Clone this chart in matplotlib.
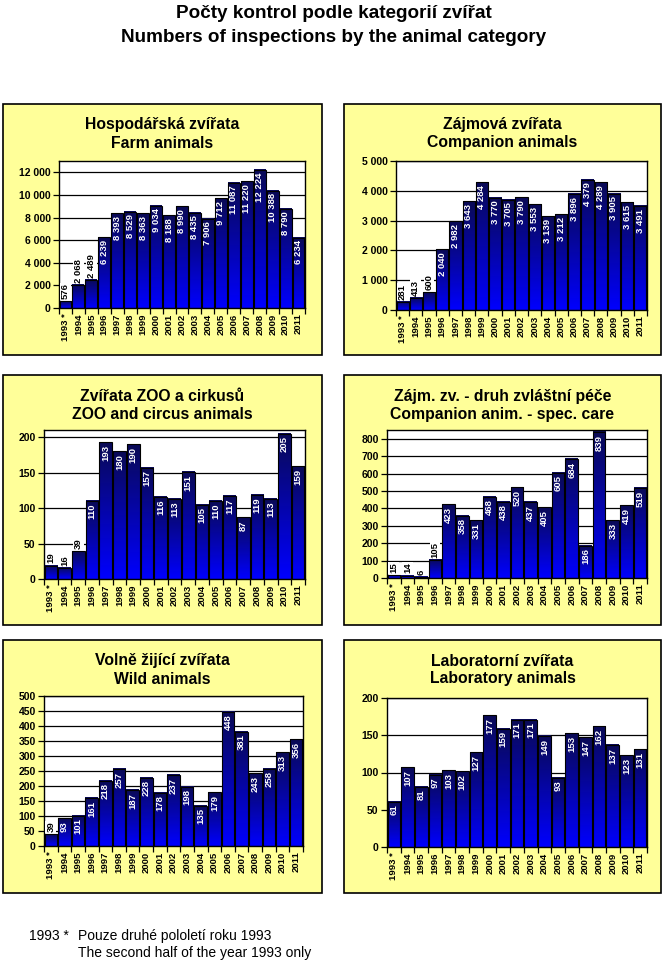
import matplotlib

matplotlib.use("Agg")
import matplotlib.pyplot as plt
import numpy as np
from matplotlib.colors import LinearSegmentedColormap
from matplotlib.patches import Rectangle
from matplotlib.ticker import FuncFormatter, MultipleLocator

plt.rcParams["font.family"] = ["Liberation Sans", "DejaVu Sans"]

YEARS = ["1993 *"] + [str(y) for y in range(1994, 2012)]

FARM = [576, 2068, 2489, 6239, 8393, 8529, 8363, 9034, 8188, 8990,
        8435, 7906, 9712, 11087, 11220, 12224, 10388, 8790, 6234]
COMPANION = [281, 413, 600, 2040, 2982, 3643, 4284, 3770, 3705, 3790,
             3553, 3139, 3212, 3896, 4379, 4289, 3905, 3615, 3491]
ZOO = [19, 16, 39, 110, 193, 180, 190, 157, 116, 113,
       151, 105, 110, 117, 87, 119, 113, 205, 159]
SPEC_CARE = [15, 14, 6, 105, 423, 358, 331, 468, 438, 520,
             437, 405, 605, 684, 186, 839, 333, 419, 519]
WILD = [39, 93, 101, 161, 218, 257, 187, 228, 178, 237,
        198, 135, 179, 448, 381, 243, 258, 313, 356]
LAB = [61, 107, 81, 97, 103, 102, 127, 177, 159, 171,
       171, 149, 93, 153, 147, 162, 137, 123, 131]

W, H = 667, 975
YELLOW = "#FFFF99"
BAR_CMAP = LinearSegmentedColormap.from_list("bar", ["#0000FF", "#0A0A55"])

# (values, title, ymax, step, outside-threshold, box px, plot px)
PANELS = [
    (FARM, "Hospodářská zvířata\nFarm animals", 13000, 2000, 3000,
     (3, 104, 322, 355), (59, 161, 305, 308)),
    (COMPANION, "Zájmová zvířata\nCompanion animals", 5000, 1000, 1000,
     (344, 104, 661, 355), (396, 161, 647, 310)),
    (ZOO, "Zvířata ZOO a cirkusů\nZOO and circus animals", 210, 50, 50,
     (3, 375, 322, 625), (44, 430, 305, 579)),
    (SPEC_CARE, "Zájm. zv. - druh zvláštní péče\nCompanion anim. - spec. care", 850, 100, 150,
     (344, 375, 661, 625), (387, 430, 647, 578)),
    (WILD, "Volně žijící zvířata\nWild animals", 500, 50, 50,
     (3, 640, 322, 893), (44, 696, 303, 846)),
    (LAB, "Laboratorní zvířata\nLaboratory animals", 200, 50, 0,
     (344, 640, 661, 893), (387, 698, 647, 847)),
]


def fig_rect(x0, y0, x1, y1):
    return [x0 / W, 1 - y1 / H, (x1 - x0) / W, (y1 - y0) / H]


def thousands(v, _pos=None):
    return f"{int(v):,}".replace(",", " ")


def draw_panel(fig, values, title, ymax, step, thresh, box, plot):
    bx = fig_rect(*box)
    fig.patches.append(Rectangle((bx[0], bx[1]), bx[2], bx[3], transform=fig.transFigure,
                                 facecolor=YELLOW, edgecolor="black", linewidth=1.2, zorder=-5))
    fig.text(bx[0] + bx[2] / 2, 1 - (box[1] + 30) / H, title, ha="center", va="center",
             fontsize=11.3, fontweight="bold", linespacing=1.25)

    ax = fig.add_axes(fig_rect(*plot))
    ax.set_facecolor("white")
    x = np.arange(len(values))
    width = 0.92
    grad = np.linspace(0, 1, 256).reshape(-1, 1)
    for xi, v in zip(x, values):
        ax.imshow(grad, cmap=BAR_CMAP, origin="lower", aspect="auto", zorder=2,
                  extent=[xi - width / 2, xi + width / 2, 0, v])
    ax.bar(x, values, width=width, facecolor="none", edgecolor="black", linewidth=0.8, zorder=3)

    for xi, v in zip(x, values):
        if v < thresh:
            ax.annotate(thousands(v), xy=(xi, v), xytext=(0, 1.5), textcoords="offset points",
                        rotation=90, ha="center", va="bottom", fontsize=6.8, fontweight="bold",
                        color="black", zorder=4,
                        bbox=dict(facecolor="white", edgecolor="none", pad=0.6))
        else:
            ax.annotate(thousands(v), xy=(xi, v), xytext=(0, -2), textcoords="offset points",
                        rotation=90, ha="center", va="top", fontsize=6.8, fontweight="bold",
                        color="white", zorder=4)

    ax.set_xlim(-0.5, len(values) - 0.5)
    ax.set_ylim(0, ymax)
    ax.yaxis.set_major_locator(MultipleLocator(step))
    ax.yaxis.set_major_formatter(FuncFormatter(thousands))
    ax.grid(axis="y", color="black", linewidth=0.9, zorder=1)
    ax.set_axisbelow(True)
    ax.set_xticks(x)
    ax.set_xticklabels(YEARS, rotation=90, fontsize=6.8, fontweight="bold", va="top")
    ax.set_xticks(np.arange(len(values) + 1) - 0.5, minor=True)
    ax.tick_params(axis="x", which="major", length=0, pad=4)
    ax.tick_params(axis="x", which="minor", length=4, width=0.9, direction="out")
    ax.tick_params(axis="y", length=4, width=0.9, labelsize=7.5, pad=2)
    for lab in ax.get_yticklabels():
        lab.set_fontweight("bold")
    for spine in ax.spines.values():
        spine.set_linewidth(1.0)
        spine.set_color("black")


def main() -> None:
    fig = plt.figure(figsize=(W / 100, H / 100), dpi=100)
    fig.text(0.5, 1 - 14 / H, "Počty kontrol podle kategorií zvířat", ha="center", va="center",
             fontsize=13.6, fontweight="bold")
    fig.text(0.5, 1 - 37 / H, "Numbers of inspections by the animal category", ha="center",
             va="center", fontsize=13.6, fontweight="bold")

    for panel in PANELS:
        draw_panel(fig, *panel)

    fig.text(29 / W, 1 - 936 / H, "1993 *", ha="left", va="center", fontsize=10)
    fig.text(78 / W, 1 - 936 / H, "Pouze druhé pololetí roku 1993", ha="left", va="center",
             fontsize=10)
    fig.text(78 / W, 1 - 953 / H, "The second half of the year 1993 only", ha="left",
             va="center", fontsize=10)

    fig.savefig("out.png", dpi=100)
    plt.close(fig)


if __name__ == "__main__":
    main()
